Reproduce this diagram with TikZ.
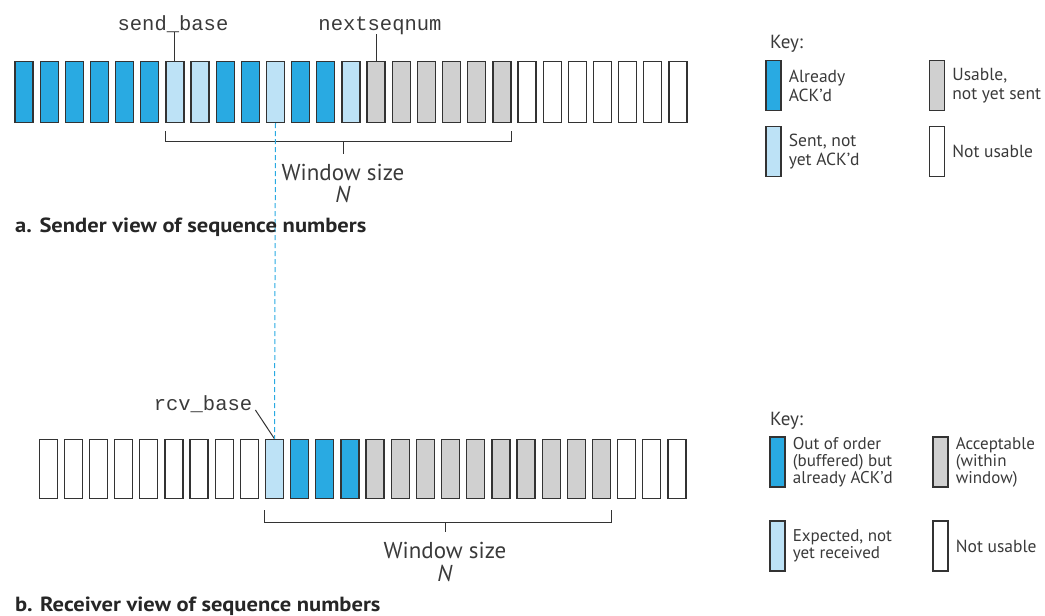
\documentclass[tikz,border=0pt]{standalone}
\usepackage{fontspec}
\setmainfont{PT Sans}
\newfontfamily\codefont{Liberation Mono}
\newfontfamily\capfont[FakeStretch=1.1]{PT Sans}
\usepackage{tikz}
\usetikzlibrary{positioning}

\definecolor{ackblue}{RGB}{41,170,226}
\definecolor{sentblue}{RGB}{189,226,246}
\definecolor{usegray}{RGB}{208,208,208}
\definecolor{edge}{RGB}{51,51,51}
\definecolor{ink}{RGB}{58,58,58}

\begin{document}
\begin{tikzpicture}[x=1pt, y=-1pt,
      cell/.style = {draw=edge, line width=1.3pt, inner sep=0pt, minimum width=18pt, minimum height=61pt},
      acked/.style = {cell, fill=ackblue},
      sent/.style = {cell, fill=sentblue},
      usable/.style = {cell, fill=usegray},
      unused/.style = {cell, fill=white},
      keycell/.style = {minimum width=15pt, minimum height=50pt},
      code/.style = {font=\codefont\fontsize{20.5}{24}\selectfont, inner sep=0pt, text=ink},
      keytext/.style = {font=\fontsize{17.5}{19}\selectfont, align=left, inner sep=0pt, text=ink},
      sizetext/.style = {font=\fontsize{23}{25}\selectfont, inner sep=0pt, text=ink},
      caption/.style = {font=\capfont\bfseries\fontsize{20.5}{22}\selectfont, inner sep=0pt, text=black!85, anchor=base west},
      bracket/.style = {draw=edge, line width=1.2pt}]
      \useasboundingbox (0,0) rectangle (1045,616);

      \node[acked] (s0) at (24.0,92) {};
      \node[acked] (s1) at (49.2,92) {};
      \node[acked] (s2) at (74.3,92) {};
      \node[acked] (s3) at (99.5,92) {};
      \node[acked] (s4) at (124.6,92) {};
      \node[acked] (s5) at (149.8,92) {};
      \node[sent] (s6) at (174.9,92) {};
      \node[sent] (s7) at (200.1,92) {};
      \node[acked] (s8) at (225.2,92) {};
      \node[acked] (s9) at (250.4,92) {};
      \node[sent] (s10) at (275.5,92) {};
      \node[acked] (s11) at (300.7,92) {};
      \node[acked] (s12) at (325.8,92) {};
      \node[sent] (s13) at (351.0,92) {};
      \node[usable] (s14) at (376.1,92) {};
      \node[usable] (s15) at (401.3,92) {};
      \node[usable] (s16) at (426.4,92) {};
      \node[usable] (s17) at (451.6,92) {};
      \node[usable] (s18) at (476.7,92) {};
      \node[usable] (s19) at (501.9,92) {};
      \node[unused] (s20) at (527.0,92) {};
      \node[unused] (s21) at (552.2,92) {};
      \node[unused] (s22) at (577.3,92) {};
      \node[unused] (s23) at (602.5,92) {};
      \node[unused] (s24) at (627.6,92) {};
      \node[unused] (s25) at (652.8,92) {};
      \node[unused] (s26) at (677.9,92) {};

      \node[code, anchor=base] (sb) at (173,30) {send\_base};
      \node[code, anchor=base] (nq) at (380,30) {nextseqnum};
      \draw[bracket, line width=1pt] (s6.north) -- (s6.north |- sb.south);
      \draw[bracket, line width=1pt] (s14.north) -- (s14.north |- nq.south);

      \draw[bracket] ([yshift=-8pt]s6.south west) -- ([yshift=-18pt]s6.south west)
        -- ([yshift=-18pt]s19.south east) -- ([yshift=-8pt]s19.south east);
      \node[sizetext, anchor=base] (wa) at (343,180) {Window size};
      \node[sizetext, anchor=base] (na) at (343,202) {\textit{N}};
      \coordinate (ta) at (343,141);
      \draw[bracket, line width=1pt] (ta) -- ([yshift=10pt]wa.north);

      \node[unused, minimum height=59pt] (r0) at (48.2,469) {};
      \node[unused, minimum height=59pt] (r1) at (73.3,469) {};
      \node[unused, minimum height=59pt] (r2) at (98.5,469) {};
      \node[unused, minimum height=59pt] (r3) at (123.6,469) {};
      \node[unused, minimum height=59pt] (r4) at (148.8,469) {};
      \node[unused, minimum height=59pt] (r5) at (173.9,469) {};
      \node[unused, minimum height=59pt] (r6) at (199.1,469) {};
      \node[unused, minimum height=59pt] (r7) at (224.2,469) {};
      \node[unused, minimum height=59pt] (r8) at (249.4,469) {};
      \node[sent, minimum height=59pt] (r9) at (274.5,469) {};
      \node[acked, minimum height=59pt] (r10) at (299.7,469) {};
      \node[acked, minimum height=59pt] (r11) at (324.8,469) {};
      \node[acked, minimum height=59pt] (r12) at (350.0,469) {};
      \node[usable, minimum height=59pt] (r13) at (375.1,469) {};
      \node[usable, minimum height=59pt] (r14) at (400.3,469) {};
      \node[usable, minimum height=59pt] (r15) at (425.4,469) {};
      \node[usable, minimum height=59pt] (r16) at (450.6,469) {};
      \node[usable, minimum height=59pt] (r17) at (475.7,469) {};
      \node[usable, minimum height=59pt] (r18) at (500.9,469) {};
      \node[usable, minimum height=59pt] (r19) at (526.0,469) {};
      \node[usable, minimum height=59pt] (r20) at (551.2,469) {};
      \node[usable, minimum height=59pt] (r21) at (576.3,469) {};
      \node[usable, minimum height=59pt] (r22) at (601.5,469) {};
      \node[unused, minimum height=59pt] (r23) at (626.6,469) {};
      \node[unused, minimum height=59pt] (r24) at (651.8,469) {};
      \node[unused, minimum height=59pt] (r25) at (676.9,469) {};

      \node[code, anchor=base] (rb) at (203,410) {rcv\_base};
      \draw[bracket, line width=1pt] ([xshift=3pt]rb.base east) -- (r9.north);
      \draw[ackblue, line width=1pt, dash pattern=on 5pt off 3pt] (s10.south) -- (r9.north);

      \draw[bracket] ([yshift=-11pt]r9.south west) -- ([yshift=-23pt]r9.south west)
        -- ([yshift=-23pt]r22.south east) -- ([yshift=-11pt]r22.south east);
      \node[sizetext, anchor=base] (wb) at (445,558) {Window size};
      \node[sizetext, anchor=base] (nb) at (445,581) {\textit{N}};
      \coordinate (tb) at (445,522);
      \draw[bracket, line width=1pt] (tb) -- ([yshift=10pt]wb.north);

      \node[caption] (ca) at (15,232) {a. Sender view of sequence numbers};
      \node[caption] (cb) at (15,611) {b. Receiver view of sequence numbers};

      \node[keytext, anchor=base west, font=\fontsize{19}{21}\selectfont] (ka) at (770,48) {Key:};
      \node[acked, keycell] (k1) at (773.5,85.5) {};
      \node[usable, keycell] (k2) at (937,85.5) {};
      \node[sent, keycell] (k3) at (773.5,151.5) {};
      \node[unused, keycell] (k4) at (937,151.5) {};
      \node[keytext, right=7pt of k1] (t1) {Already\\ACK'd};
      \node[keytext, right=7pt of k2] (t2) {Usable,\\not yet sent};
      \node[keytext, right=7pt of k3] (t3) {Sent, not\\yet ACK'd};
      \node[keytext, right=7pt of k4] (t4) {Not usable};

      \node[keytext, anchor=base west, font=\fontsize{19}{21}\selectfont] (kb) at (770,425) {Key:};
      \node[acked, keycell] (k5) at (777.5,462) {};
      \node[usable, keycell] (k6) at (940.5,462) {};
      \node[sent, keycell] (k7) at (777.5,546) {};
      \node[unused, keycell] (k8) at (940.5,546) {};
      \node[keytext, right=7pt of k5, font=\fontsize{17}{17}\selectfont] (t5) {Out of order\\(buffered) but\\already ACK'd};
      \node[keytext, right=7pt of k6, font=\fontsize{17}{17}\selectfont] (t6) {Acceptable\\(within\\window)};
      \node[keytext, right=7pt of k7, font=\fontsize{17}{17}\selectfont] (t7) {Expected, not\\yet received};
      \node[keytext, right=7pt of k8] (t8) {Not usable};
\end{tikzpicture}
\end{document}
